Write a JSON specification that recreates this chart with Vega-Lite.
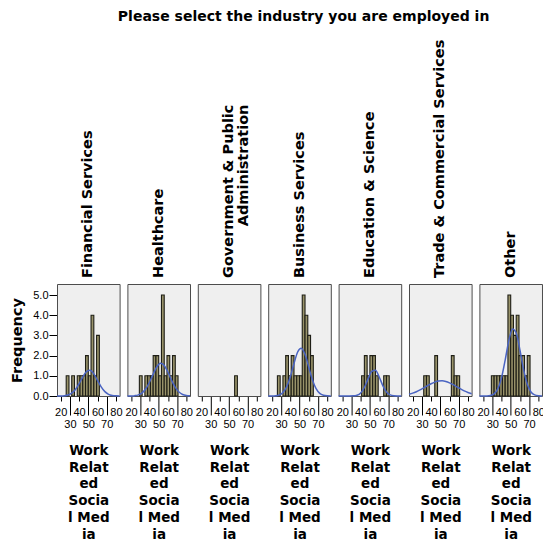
{
  "$schema": "https://vega.github.io/schema/vega-lite/v6.json",
  "padding": {"left": 9, "top": 9, "right": 0, "bottom": 0},
  "bounds": "flush",
  "title": {
    "text": "Please select the industry you are employed in",
    "anchor": "middle",
    "dx": 26,
    "font": "DejaVu Sans",
    "fontSize": 14,
    "fontWeight": "bold",
    "color": "#000000",
    "offset": 16
  },
  "data": {
    "values": [
      {"industry": "Financial Services", "kind": "bar", "lo": 26, "hi": 29, "count": 1},
      {"industry": "Financial Services", "kind": "bar", "lo": 32, "hi": 35, "count": 1},
      {"industry": "Financial Services", "kind": "bar", "lo": 38, "hi": 41, "count": 1},
      {"industry": "Financial Services", "kind": "bar", "lo": 41, "hi": 44, "count": 1},
      {"industry": "Financial Services", "kind": "bar", "lo": 44, "hi": 47, "count": 1},
      {"industry": "Financial Services", "kind": "bar", "lo": 47, "hi": 50, "count": 2},
      {"industry": "Financial Services", "kind": "bar", "lo": 50, "hi": 53, "count": 1},
      {"industry": "Financial Services", "kind": "bar", "lo": 53, "hi": 56, "count": 4},
      {"industry": "Financial Services", "kind": "bar", "lo": 56, "hi": 59, "count": 1},
      {"industry": "Financial Services", "kind": "bar", "lo": 59, "hi": 62, "count": 3},

      {"industry": "Healthcare", "kind": "bar", "lo": 29, "hi": 32, "count": 1},
      {"industry": "Healthcare", "kind": "bar", "lo": 35, "hi": 38, "count": 1},
      {"industry": "Healthcare", "kind": "bar", "lo": 38, "hi": 41, "count": 1},
      {"industry": "Healthcare", "kind": "bar", "lo": 41, "hi": 44, "count": 1},
      {"industry": "Healthcare", "kind": "bar", "lo": 44, "hi": 47, "count": 2},
      {"industry": "Healthcare", "kind": "bar", "lo": 47, "hi": 50, "count": 2},
      {"industry": "Healthcare", "kind": "bar", "lo": 50, "hi": 53, "count": 1},
      {"industry": "Healthcare", "kind": "bar", "lo": 53, "hi": 56, "count": 5},
      {"industry": "Healthcare", "kind": "bar", "lo": 56, "hi": 59, "count": 1},
      {"industry": "Healthcare", "kind": "bar", "lo": 59, "hi": 62, "count": 2},
      {"industry": "Healthcare", "kind": "bar", "lo": 62, "hi": 65, "count": 1},
      {"industry": "Healthcare", "kind": "bar", "lo": 65, "hi": 68, "count": 2},
      {"industry": "Healthcare", "kind": "bar", "lo": 68, "hi": 71, "count": 1},

      {"industry": "Government & Public Administration", "kind": "bar", "lo": 56, "hi": 59, "count": 1},

      {"industry": "Business Services", "kind": "bar", "lo": 26, "hi": 29, "count": 1},
      {"industry": "Business Services", "kind": "bar", "lo": 32, "hi": 35, "count": 1},
      {"industry": "Business Services", "kind": "bar", "lo": 35, "hi": 38, "count": 2},
      {"industry": "Business Services", "kind": "bar", "lo": 38, "hi": 41, "count": 1},
      {"industry": "Business Services", "kind": "bar", "lo": 41, "hi": 44, "count": 2},
      {"industry": "Business Services", "kind": "bar", "lo": 44, "hi": 47, "count": 1},
      {"industry": "Business Services", "kind": "bar", "lo": 47, "hi": 50, "count": 1},
      {"industry": "Business Services", "kind": "bar", "lo": 50, "hi": 53, "count": 1},
      {"industry": "Business Services", "kind": "bar", "lo": 53, "hi": 56, "count": 5},
      {"industry": "Business Services", "kind": "bar", "lo": 56, "hi": 59, "count": 4},
      {"industry": "Business Services", "kind": "bar", "lo": 59, "hi": 62, "count": 3},
      {"industry": "Business Services", "kind": "bar", "lo": 62, "hi": 65, "count": 2},

      {"industry": "Education & Science", "kind": "bar", "lo": 41, "hi": 44, "count": 1},
      {"industry": "Education & Science", "kind": "bar", "lo": 44, "hi": 47, "count": 2},
      {"industry": "Education & Science", "kind": "bar", "lo": 47, "hi": 50, "count": 1},
      {"industry": "Education & Science", "kind": "bar", "lo": 50, "hi": 53, "count": 2},
      {"industry": "Education & Science", "kind": "bar", "lo": 53, "hi": 56, "count": 2},
      {"industry": "Education & Science", "kind": "bar", "lo": 56, "hi": 59, "count": 1},
      {"industry": "Education & Science", "kind": "bar", "lo": 65, "hi": 68, "count": 1},
      {"industry": "Education & Science", "kind": "bar", "lo": 68, "hi": 71, "count": 1},

      {"industry": "Trade & Commercial Services", "kind": "bar", "lo": 32, "hi": 35, "count": 1},
      {"industry": "Trade & Commercial Services", "kind": "bar", "lo": 35, "hi": 38, "count": 1},
      {"industry": "Trade & Commercial Services", "kind": "bar", "lo": 44, "hi": 47, "count": 2},
      {"industry": "Trade & Commercial Services", "kind": "bar", "lo": 62, "hi": 65, "count": 2},
      {"industry": "Trade & Commercial Services", "kind": "bar", "lo": 65, "hi": 68, "count": 1},
      {"industry": "Trade & Commercial Services", "kind": "bar", "lo": 68, "hi": 71, "count": 1},

      {"industry": "Other", "kind": "bar", "lo": 29, "hi": 32, "count": 1},
      {"industry": "Other", "kind": "bar", "lo": 32, "hi": 35, "count": 1},
      {"industry": "Other", "kind": "bar", "lo": 35, "hi": 38, "count": 1},
      {"industry": "Other", "kind": "bar", "lo": 38, "hi": 41, "count": 1},
      {"industry": "Other", "kind": "bar", "lo": 41, "hi": 44, "count": 1},
      {"industry": "Other", "kind": "bar", "lo": 44, "hi": 47, "count": 1},
      {"industry": "Other", "kind": "bar", "lo": 47, "hi": 50, "count": 5},
      {"industry": "Other", "kind": "bar", "lo": 50, "hi": 53, "count": 4},
      {"industry": "Other", "kind": "bar", "lo": 53, "hi": 56, "count": 3},
      {"industry": "Other", "kind": "bar", "lo": 56, "hi": 59, "count": 4},
      {"industry": "Other", "kind": "bar", "lo": 59, "hi": 62, "count": 2},
      {"industry": "Other", "kind": "bar", "lo": 62, "hi": 65, "count": 2},
      {"industry": "Other", "kind": "bar", "lo": 65, "hi": 68, "count": 1},
      {"industry": "Other", "kind": "bar", "lo": 68, "hi": 71, "count": 2},

      {"industry": "Financial Services", "kind": "curve", "score": 16, "freq": 0.001},
      {"industry": "Financial Services", "kind": "curve", "score": 20, "freq": 0.003},
      {"industry": "Financial Services", "kind": "curve", "score": 24, "freq": 0.014},
      {"industry": "Financial Services", "kind": "curve", "score": 28, "freq": 0.049},
      {"industry": "Financial Services", "kind": "curve", "score": 32, "freq": 0.138},
      {"industry": "Financial Services", "kind": "curve", "score": 36, "freq": 0.319},
      {"industry": "Financial Services", "kind": "curve", "score": 40, "freq": 0.607},
      {"industry": "Financial Services", "kind": "curve", "score": 44, "freq": 0.946},
      {"industry": "Financial Services", "kind": "curve", "score": 48, "freq": 1.211},
      {"industry": "Financial Services", "kind": "curve", "score": 52, "freq": 1.272},
      {"industry": "Financial Services", "kind": "curve", "score": 56, "freq": 1.097},
      {"industry": "Financial Services", "kind": "curve", "score": 60, "freq": 0.776},
      {"industry": "Financial Services", "kind": "curve", "score": 64, "freq": 0.452},
      {"industry": "Financial Services", "kind": "curve", "score": 68, "freq": 0.216},
      {"industry": "Financial Services", "kind": "curve", "score": 72, "freq": 0.084},
      {"industry": "Financial Services", "kind": "curve", "score": 76, "freq": 0.027},
      {"industry": "Financial Services", "kind": "curve", "score": 80, "freq": 0.007},
      {"industry": "Financial Services", "kind": "curve", "score": 84, "freq": 0.002},

      {"industry": "Healthcare", "kind": "curve", "score": 16, "freq": 0.001},
      {"industry": "Healthcare", "kind": "curve", "score": 20, "freq": 0.005},
      {"industry": "Healthcare", "kind": "curve", "score": 24, "freq": 0.018},
      {"industry": "Healthcare", "kind": "curve", "score": 28, "freq": 0.058},
      {"industry": "Healthcare", "kind": "curve", "score": 32, "freq": 0.158},
      {"industry": "Healthcare", "kind": "curve", "score": 36, "freq": 0.358},
      {"industry": "Healthcare", "kind": "curve", "score": 40, "freq": 0.682},
      {"industry": "Healthcare", "kind": "curve", "score": 44, "freq": 1.085},
      {"industry": "Healthcare", "kind": "curve", "score": 48, "freq": 1.448},
      {"industry": "Healthcare", "kind": "curve", "score": 52, "freq": 1.618},
      {"industry": "Healthcare", "kind": "curve", "score": 56, "freq": 1.513},
      {"industry": "Healthcare", "kind": "curve", "score": 60, "freq": 1.187},
      {"industry": "Healthcare", "kind": "curve", "score": 64, "freq": 0.778},
      {"industry": "Healthcare", "kind": "curve", "score": 68, "freq": 0.428},
      {"industry": "Healthcare", "kind": "curve", "score": 72, "freq": 0.197},
      {"industry": "Healthcare", "kind": "curve", "score": 76, "freq": 0.076},
      {"industry": "Healthcare", "kind": "curve", "score": 80, "freq": 0.024},
      {"industry": "Healthcare", "kind": "curve", "score": 84, "freq": 0.007},

      {"industry": "Business Services", "kind": "curve", "score": 16, "freq": 0.0},
      {"industry": "Business Services", "kind": "curve", "score": 20, "freq": 0.002},
      {"industry": "Business Services", "kind": "curve", "score": 24, "freq": 0.013},
      {"industry": "Business Services", "kind": "curve", "score": 28, "freq": 0.052},
      {"industry": "Business Services", "kind": "curve", "score": 32, "freq": 0.171},
      {"industry": "Business Services", "kind": "curve", "score": 36, "freq": 0.449},
      {"industry": "Business Services", "kind": "curve", "score": 40, "freq": 0.949},
      {"industry": "Business Services", "kind": "curve", "score": 44, "freq": 1.607},
      {"industry": "Business Services", "kind": "curve", "score": 48, "freq": 2.177},
      {"industry": "Business Services", "kind": "curve", "score": 52, "freq": 2.365},
      {"industry": "Business Services", "kind": "curve", "score": 56, "freq": 2.06},
      {"industry": "Business Services", "kind": "curve", "score": 60, "freq": 1.437},
      {"industry": "Business Services", "kind": "curve", "score": 64, "freq": 0.803},
      {"industry": "Business Services", "kind": "curve", "score": 68, "freq": 0.36},
      {"industry": "Business Services", "kind": "curve", "score": 72, "freq": 0.129},
      {"industry": "Business Services", "kind": "curve", "score": 76, "freq": 0.037},
      {"industry": "Business Services", "kind": "curve", "score": 80, "freq": 0.009},
      {"industry": "Business Services", "kind": "curve", "score": 84, "freq": 0.002},

      {"industry": "Education & Science", "kind": "curve", "score": 16, "freq": 0.0},
      {"industry": "Education & Science", "kind": "curve", "score": 20, "freq": 0.0},
      {"industry": "Education & Science", "kind": "curve", "score": 24, "freq": 0.0},
      {"industry": "Education & Science", "kind": "curve", "score": 28, "freq": 0.001},
      {"industry": "Education & Science", "kind": "curve", "score": 32, "freq": 0.007},
      {"industry": "Education & Science", "kind": "curve", "score": 36, "freq": 0.04},
      {"industry": "Education & Science", "kind": "curve", "score": 40, "freq": 0.152},
      {"industry": "Education & Science", "kind": "curve", "score": 44, "freq": 0.422},
      {"industry": "Education & Science", "kind": "curve", "score": 48, "freq": 0.845},
      {"industry": "Education & Science", "kind": "curve", "score": 52, "freq": 1.219},
      {"industry": "Education & Science", "kind": "curve", "score": 56, "freq": 1.27},
      {"industry": "Education & Science", "kind": "curve", "score": 60, "freq": 0.954},
      {"industry": "Education & Science", "kind": "curve", "score": 64, "freq": 0.517},
      {"industry": "Education & Science", "kind": "curve", "score": 68, "freq": 0.202},
      {"industry": "Education & Science", "kind": "curve", "score": 72, "freq": 0.057},
      {"industry": "Education & Science", "kind": "curve", "score": 76, "freq": 0.012},
      {"industry": "Education & Science", "kind": "curve", "score": 80, "freq": 0.002},
      {"industry": "Education & Science", "kind": "curve", "score": 84, "freq": 0.0},

      {"industry": "Trade & Commercial Services", "kind": "curve", "score": 16, "freq": 0.09},
      {"industry": "Trade & Commercial Services", "kind": "curve", "score": 20, "freq": 0.142},
      {"industry": "Trade & Commercial Services", "kind": "curve", "score": 24, "freq": 0.212},
      {"industry": "Trade & Commercial Services", "kind": "curve", "score": 28, "freq": 0.3},
      {"industry": "Trade & Commercial Services", "kind": "curve", "score": 32, "freq": 0.401},
      {"industry": "Trade & Commercial Services", "kind": "curve", "score": 36, "freq": 0.508},
      {"industry": "Trade & Commercial Services", "kind": "curve", "score": 40, "freq": 0.608},
      {"industry": "Trade & Commercial Services", "kind": "curve", "score": 44, "freq": 0.689},
      {"industry": "Trade & Commercial Services", "kind": "curve", "score": 48, "freq": 0.738},
      {"industry": "Trade & Commercial Services", "kind": "curve", "score": 52, "freq": 0.749},
      {"industry": "Trade & Commercial Services", "kind": "curve", "score": 56, "freq": 0.719},
      {"industry": "Trade & Commercial Services", "kind": "curve", "score": 60, "freq": 0.652},
      {"industry": "Trade & Commercial Services", "kind": "curve", "score": 64, "freq": 0.56},
      {"industry": "Trade & Commercial Services", "kind": "curve", "score": 68, "freq": 0.455},
      {"industry": "Trade & Commercial Services", "kind": "curve", "score": 72, "freq": 0.35},
      {"industry": "Trade & Commercial Services", "kind": "curve", "score": 76, "freq": 0.254},
      {"industry": "Trade & Commercial Services", "kind": "curve", "score": 80, "freq": 0.175},
      {"industry": "Trade & Commercial Services", "kind": "curve", "score": 84, "freq": 0.114},

      {"industry": "Other", "kind": "curve", "score": 16, "freq": 0.0},
      {"industry": "Other", "kind": "curve", "score": 20, "freq": 0.001},
      {"industry": "Other", "kind": "curve", "score": 24, "freq": 0.005},
      {"industry": "Other", "kind": "curve", "score": 28, "freq": 0.025},
      {"industry": "Other", "kind": "curve", "score": 32, "freq": 0.107},
      {"industry": "Other", "kind": "curve", "score": 36, "freq": 0.35},
      {"industry": "Other", "kind": "curve", "score": 40, "freq": 0.895},
      {"industry": "Other", "kind": "curve", "score": 44, "freq": 1.779},
      {"industry": "Other", "kind": "curve", "score": 48, "freq": 2.757},
      {"industry": "Other", "kind": "curve", "score": 52, "freq": 3.323},
      {"industry": "Other", "kind": "curve", "score": 56, "freq": 3.122},
      {"industry": "Other", "kind": "curve", "score": 60, "freq": 2.285},
      {"industry": "Other", "kind": "curve", "score": 64, "freq": 1.303},
      {"industry": "Other", "kind": "curve", "score": 68, "freq": 0.578},
      {"industry": "Other", "kind": "curve", "score": 72, "freq": 0.2},
      {"industry": "Other", "kind": "curve", "score": 76, "freq": 0.054},
      {"industry": "Other", "kind": "curve", "score": 80, "freq": 0.011},
      {"industry": "Other", "kind": "curve", "score": 84, "freq": 0.002}
    ]
  },
  "facet": {
    "column": {
      "field": "industry",
      "type": "nominal",
      "sort": [
        "Financial Services",
        "Healthcare",
        "Government & Public Administration",
        "Business Services",
        "Education & Science",
        "Trade & Commercial Services",
        "Other"
      ],
      "header": {
        "title": null,
        "labelOrient": "top",
        "labelAngle": 270,
        "labelAlign": "right",
        "labelBaseline": "middle",
        "labelFont": "DejaVu Sans",
        "labelFontWeight": "bold",
        "labelFontSize": 14.5,
        "labelColor": "#000000",
        "labelPadding": 6,
        "labelLineHeight": 15,
        "labelExpr": "datum.value === 'Government & Public Administration' ? ['Government & Public', 'Administration'] : datum.value"
      }
    }
  },
  "spacing": 7.4,
  "spec": {
    "width": 62.6,
    "height": 112,
    "layer": [
      {
        "transform": [{"filter": "datum.kind === 'bar'"}],
        "mark": {"type": "bar", "fill": "#99936a", "stroke": "#1e1e16", "strokeWidth": 1.1},
        "encoding": {
          "x": {
            "field": "lo",
            "type": "quantitative",
            "scale": {"domain": [16, 84], "nice": false, "zero": false},
            "axis": {
              "orient": "bottom",
              "values": [20, 40, 60, 80],
              "tickSize": 5,
              "labelPadding": 5,
              "labelFlush": false,
              "labelOverlap": false,
              "title": ["Work", "Relat", "ed", "Socia", "l Med", "ia"],
              "titleFontSize": 13.5,
              "titleLineHeight": 16.7,
              "titlePadding": 26.5
            }
          },
          "x2": {"field": "hi"},
          "y": {
            "field": "count",
            "type": "quantitative",
            "scale": {"domain": [0, 5.545], "nice": false},
            "axis": {
              "values": [0, 1, 2, 3, 4, 5],
              "format": ".1f",
              "title": "Frequency",
              "titleFontSize": 14.5,
              "tickSize": 8,
              "labelPadding": 1,
              "titlePadding": 8
            }
          },
          "y2": {"datum": 0}
        }
      },
      {
        "transform": [{"filter": "datum.kind === 'curve'"}],
        "mark": {"type": "line", "color": "#4a64c2", "strokeWidth": 1.5, "interpolate": "monotone"},
        "encoding": {
          "x": {
            "field": "score",
            "type": "quantitative",
            "scale": {"domain": [16, 84], "nice": false, "zero": false},
            "axis": {
              "orient": "bottom",
              "values": [30, 50, 70],
              "tickSize": 19,
              "labelPadding": 3,
              "labelFlush": false,
              "labelOverlap": false,
              "title": null
            }
          },
          "y": {
            "field": "freq",
            "type": "quantitative",
            "scale": {"domain": [0, 5.545], "nice": false},
            "axis": {
              "values": [0, 1, 2, 3, 4, 5],
              "format": ".1f",
              "title": "Frequency",
              "titleFontSize": 14.5,
              "tickSize": 8,
              "labelPadding": 1,
              "titlePadding": 8
            }
          }
        }
      }
    ],
    "resolve": {"axis": {"x": "independent", "y": "shared"}}
  },
  "config": {
    "view": {"fill": "#efefef", "stroke": "#4d4d4d", "strokeWidth": 1},
    "axis": {
      "grid": false,
      "domain": false,
      "tickColor": "#000000",
      "labelColor": "#000000",
      "labelFont": "Liberation Sans",
      "labelFontSize": 11,
      "titleColor": "#000000",
      "titleFont": "DejaVu Sans",
      "titleFontWeight": "bold"
    }
  }
}
